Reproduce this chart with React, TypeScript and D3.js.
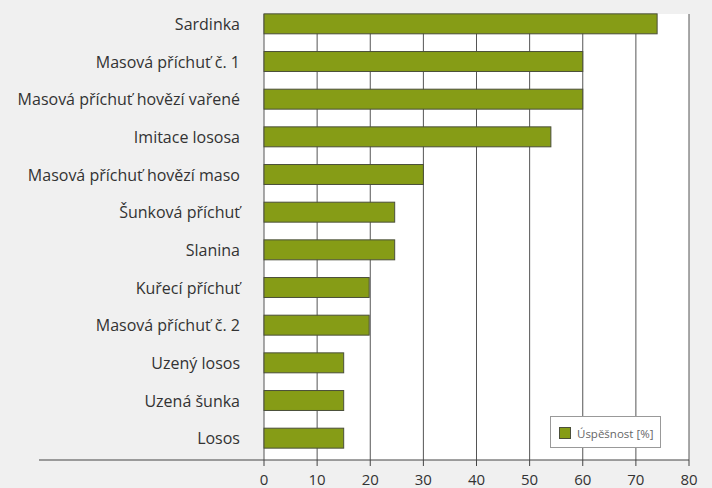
import React from "react";
import * as d3 from "d3";

const categories = [
  "Sardinka",
  "Masová příchuť č. 1",
  "Masová příchuť hovězí vařené",
  "Imitace lososa",
  "Masová příchuť hovězí maso",
  "Šunková příchuť",
  "Slanina",
  "Kuřecí příchuť",
  "Masová příchuť č. 2",
  "Uzený losos",
  "Uzená šunka",
  "Losos",
];
const values = [74, 60, 60, 54, 30, 24.6, 24.6, 19.8, 19.8, 15, 15, 15];
const xTicks = [0, 10, 20, 30, 40, 50, 60, 70, 80];
const seriesName = "Úspěšnost [%]";

const W = 712;
const H = 488;
const PLOT = { left: 264, right: 689, top: 14, bottom: 460 };
const FONT = "'Open Sans', sans-serif";

const App = () => {
  const x = d3.scaleLinear().domain([0, 80]).range([PLOT.left, PLOT.right]);
  const y = d3
    .scaleBand()
    .domain(categories)
    .range([5, 457])
    .paddingInner(0.47)
    .paddingOuter(0.235);

  return (
    <svg
      width={W}
      height={H}
      style={{ position: "absolute", left: 0, top: 0, background: "#f0f0f0" }}
    >
      <rect x={0} y={0} width={W} height={H} fill="#f0f0f0" />
      <rect
        x={PLOT.left}
        y={PLOT.top}
        width={PLOT.right - PLOT.left}
        height={PLOT.bottom - PLOT.top}
        fill="#ffffff"
      />
      {/* grid */}
      {xTicks.map((t) => (
        <line
          key={"g" + t}
          x1={x(t)}
          x2={x(t)}
          y1={PLOT.top}
          y2={PLOT.bottom}
          stroke="#555"
          strokeWidth={1}
        />
      ))}
      {/* bars */}
      {categories.map((c, i) => (
        <rect
          key={c}
          x={x(0)}
          y={y(c)}
          width={x(values[i]) - x(0)}
          height={y.bandwidth()}
          fill="#869c16"
          stroke="#4b4f3a"
          strokeWidth={1}
        />
      ))}
      {/* category labels */}
      {categories.map((c) => (
        <text
          key={"l" + c}
          x={240}
          y={(y(c) ?? 0) + y.bandwidth() / 2}
          textAnchor="end"
          dominantBaseline="central"
          fontFamily={FONT}
          fontSize={16}
          fill="#333"
        >
          {c}
        </text>
      ))}
      {/* x axis */}
      <line x1={39} x2={PLOT.right} y1={PLOT.bottom} y2={PLOT.bottom} stroke="#444" strokeWidth={1.2} />
      {xTicks.map((t) => (
        <g key={"t" + t}>
          <line x1={x(t)} x2={x(t)} y1={PLOT.bottom} y2={PLOT.bottom + 6} stroke="#444" />
          <text
            x={x(t)}
            y={478.5}
            textAnchor="middle"
            dominantBaseline="central"
            fontFamily={FONT}
            fontSize={15}
            fill="#333"
          >
            {t}
          </text>
        </g>
      ))}
      {/* legend */}
      <rect x={550.5} y={416.5} width={110} height={31} fill="#fff" stroke="#999" />
      <rect x={559.5} y={427.5} width={11} height={11} fill="#869c16" stroke="#4b4f3a" />
      <text
        x={577}
        y={433}
        dominantBaseline="central"
        fontFamily={FONT}
        fontSize={11.5}
        fill="#666"
      >
        {seriesName}
      </text>
    </svg>
  );
};

export default App;
